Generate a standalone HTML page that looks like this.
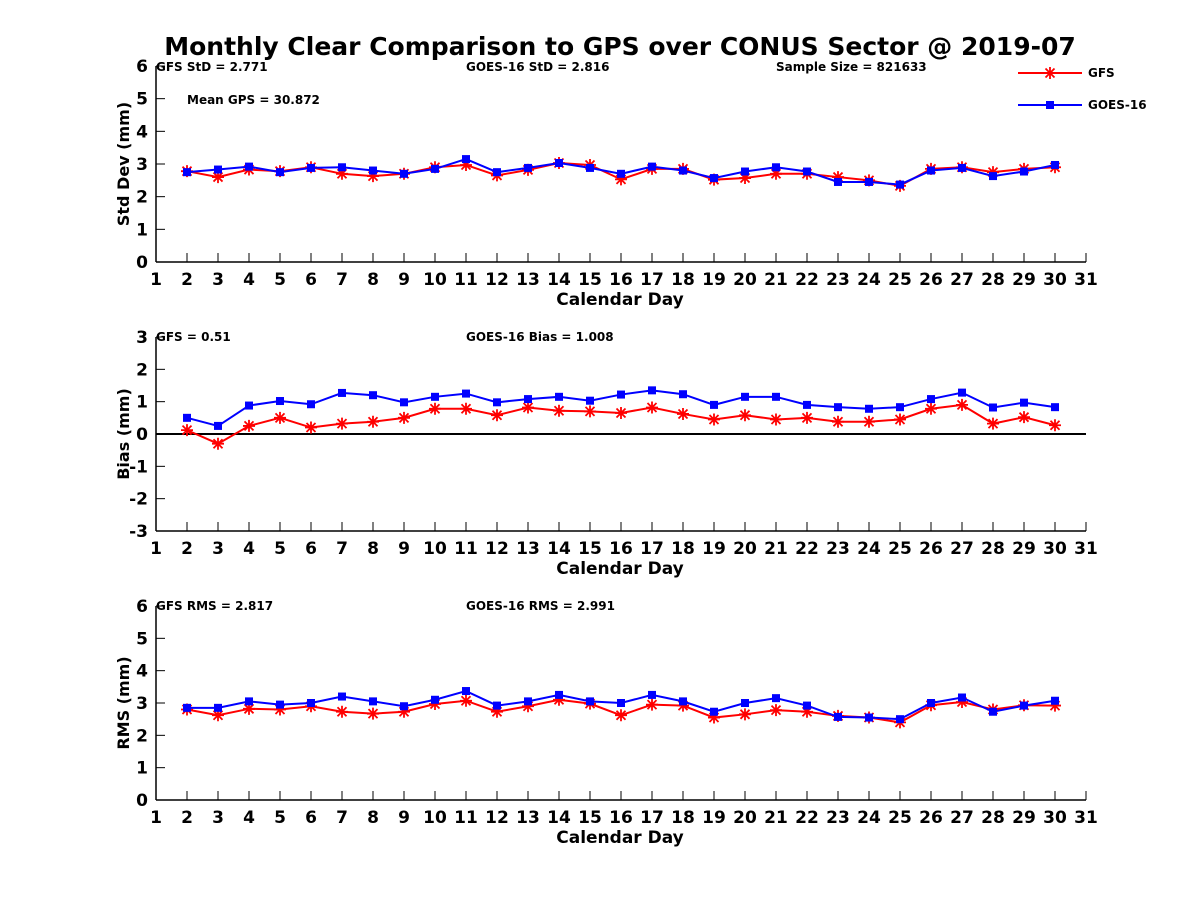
<!DOCTYPE html>
<html><head><meta charset="utf-8"><style>
body{margin:0;background:#fff;}
svg text{font-family:"DejaVu Sans","Liberation Sans",sans-serif;font-weight:bold;fill:#000;}
</style></head><body>
<svg id="c" width="1200" height="900" xmlns="http://www.w3.org/2000/svg"></svg>
<script>
const days=[2,3,4,5,6,7,8,9,10,11,12,13,14,15,16,17,18,19,20,21,22,23,24,25,26,27,28,29,30];
const xTicks=[1,2,3,4,5,6,7,8,9,10,11,12,13,14,15,16,17,18,19,20,21,22,23,24,25,26,27,28,29,30,31];
const stdGFS=[2.78,2.6,2.83,2.78,2.9,2.7,2.63,2.7,2.9,2.97,2.65,2.82,3.03,2.97,2.53,2.85,2.85,2.52,2.57,2.7,2.7,2.6,2.5,2.33,2.85,2.9,2.75,2.85,2.9];
const stdGOES=[2.75,2.83,2.92,2.75,2.88,2.9,2.8,2.7,2.85,3.15,2.75,2.88,3.03,2.88,2.7,2.92,2.8,2.57,2.77,2.9,2.77,2.45,2.45,2.37,2.8,2.88,2.63,2.77,2.97];
const biasGFS=[0.12,-0.3,0.25,0.5,0.2,0.32,0.38,0.5,0.78,0.78,0.58,0.82,0.72,0.7,0.65,0.82,0.62,0.45,0.58,0.45,0.5,0.38,0.38,0.45,0.78,0.9,0.32,0.52,0.27];
const biasGOES=[0.5,0.25,0.88,1.02,0.92,1.27,1.2,0.98,1.15,1.25,0.98,1.08,1.15,1.03,1.22,1.35,1.23,0.9,1.15,1.15,0.9,0.83,0.78,0.83,1.08,1.28,0.82,0.97,0.83];
const rmsGFS=[2.8,2.62,2.82,2.8,2.9,2.73,2.67,2.73,2.97,3.07,2.73,2.9,3.1,2.98,2.62,2.95,2.92,2.55,2.65,2.78,2.73,2.6,2.55,2.4,2.93,3.03,2.8,2.93,2.92];
const rmsGOES=[2.85,2.85,3.05,2.95,3.0,3.2,3.05,2.9,3.1,3.37,2.92,3.05,3.25,3.05,3.0,3.25,3.05,2.73,3.0,3.15,2.92,2.57,2.55,2.5,3.0,3.17,2.73,2.92,3.07];
const yTicksStd=[0,1,2,3,4,5,6];
const yTicksBias=[-3,-2,-1,0,1,2,3];

const svg=document.getElementById('c');
const NS='http://www.w3.org/2000/svg';
function mk(tag,attrs,parent){const e=document.createElementNS(NS,tag);for(const k in attrs)e.setAttribute(k,attrs[k]);(parent||svg).appendChild(e);return e;}
function txt(s,x,y,size,anchor,parent){const t=mk('text',{x:x,y:y,'font-size':size,'text-anchor':anchor||'start'},parent);t.textContent=s;return t;}

const X0=156,X1=1086;
const xs=d=>X0+(d-1)*(X1-X0)/30;

const t=txt('Monthly Clear Comparison to GPS over CONUS Sector @ 2019-07',620,55,25,'middle');


function panel(name,top,bot,ymin,ymax,yt,ylabel,g1,g2,notes,zeroLine){
  const g=mk('g',{});
  
  
  const ys=v=>bot-(v-ymin)*(bot-top)/(ymax-ymin);
  mk('line',{x1:X0,y1:top,x2:X0,y2:bot,stroke:'#000','stroke-width':1.5},g);
  mk('line',{x1:X0,y1:bot,x2:X1,y2:bot,stroke:'#000','stroke-width':1.5},g);
  if(zeroLine){const z=mk('line',{x1:X0,y1:ys(0),x2:X1,y2:ys(0),stroke:'#000','stroke-width':2},g);}
  xTicks.forEach(d=>{mk('line',{x1:xs(d),y1:bot,x2:xs(d),y2:bot-9,stroke:'#000','stroke-width':1},g);txt(String(d),xs(d),bot+23,17,'middle',g);});
  yt.forEach(v=>{mk('line',{x1:X0,y1:ys(v),x2:X0+9,y2:ys(v),stroke:'#000','stroke-width':1},g);txt(String(v),X0-8,ys(v)+6,17,'end',g);});
  const xl=txt('Calendar Day',620,bot+43,17,'middle',g);
  
  const yl=txt(ylabel,0,0,16,'middle',g);
  yl.setAttribute('transform','translate(129,'+((top+bot)/2)+') rotate(-90)');
  
  notes.forEach(n=>{const e=txt(n[0],n[1],n[2],12,'start',g);});
  const p1=mk('polyline',{points:days.map((d,i)=>xs(d)+','+ys(g1[i])).join(' '),fill:'none',stroke:'#f00','stroke-width':2},g);
  
  days.forEach((d,i)=>{star(xs(d),ys(g1[i]),g);});
  const p2=mk('polyline',{points:days.map((d,i)=>xs(d)+','+ys(g2[i])).join(' '),fill:'none',stroke:'#00f','stroke-width':2},g);
  
  days.forEach((d,i)=>{const r=mk('rect',{x:xs(d)-4,y:ys(g2[i])-4,width:8,height:8,fill:'#00f'},g);});
}
function star(x,y,g){
  const s=mk('path',{d:`M${x-6} ${y}H${x+6}M${x} ${y-6}V${y+6}M${x-4.5} ${y-4.5}L${x+4.5} ${y+4.5}M${x-4.5} ${y+4.5}L${x+4.5} ${y-4.5}`,stroke:'#f00','stroke-width':1.8},g);
  
  
}

panel('std',66,262,0,6,yTicksStd,'Std Dev (mm)',stdGFS,stdGOES,
 [['GFS StD = 2.771',156,71],['GOES-16 StD = 2.816',466,71],['Sample Size = 821633',776,71],['Mean GPS = 30.872',187,104]],false);
panel('bias',337,531,-3,3,yTicksBias,'Bias (mm)',biasGFS,biasGOES,
 [['GFS = 0.51',156,341],['GOES-16 Bias = 1.008',466,341]],true);
panel('rms',606,800,0,6,yTicksStd,'RMS (mm)',rmsGFS,rmsGOES,
 [['GFS RMS = 2.817',156,610],['GOES-16 RMS = 2.991',466,610]],false);

const lg=mk('g',{});


mk('line',{x1:1018,y1:73,x2:1082,y2:73,stroke:'#f00','stroke-width':2},lg);
star(1050,73,lg);
txt('GFS',1088,77,12,'start',lg);
mk('line',{x1:1018,y1:105,x2:1082,y2:105,stroke:'#00f','stroke-width':2},lg);
mk('rect',{x:1046,y:101,width:8,height:8,fill:'#00f'},lg);
txt('GOES-16',1088,109,12,'start',lg);
</script>
</body></html>
